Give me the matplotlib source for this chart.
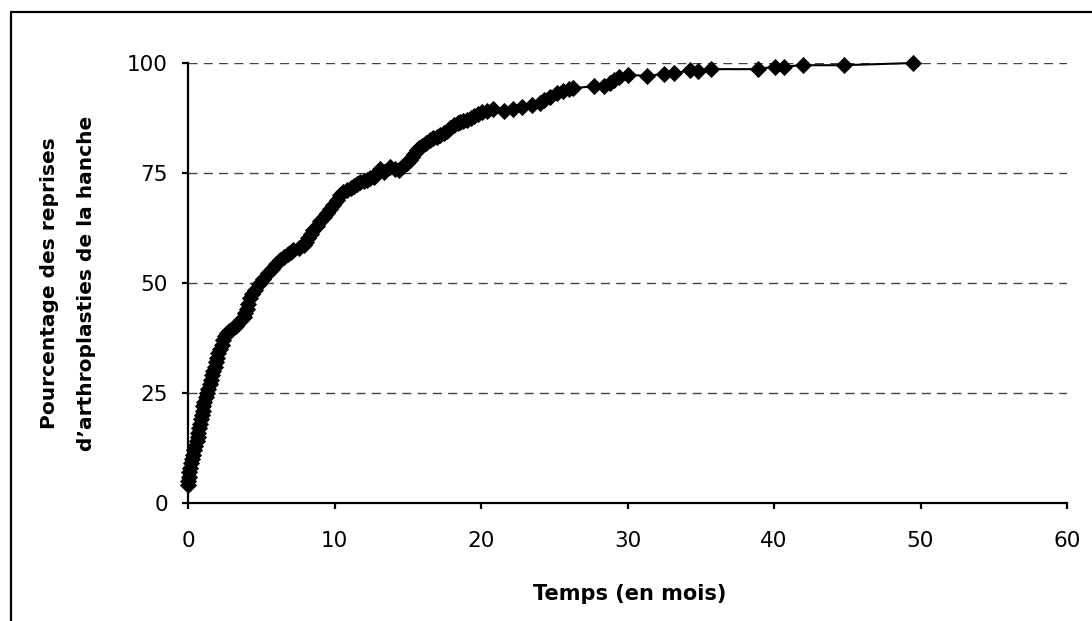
import matplotlib
matplotlib.use("Agg")
import matplotlib.pyplot as plt
from matplotlib.patches import Rectangle

# Time (months) and cumulative percentage of hip arthroplasty revisions
months = [
    0.0, 0.02, 0.04, 0.08, 0.12, 0.18, 0.25, 0.32, 0.40, 0.50, 0.60, 0.65, 0.70, 0.76,
    0.82, 0.88, 0.95, 1.00, 1.05, 1.12, 1.20, 1.30, 1.39, 1.47, 1.55, 1.64, 1.73, 1.82,
    1.90, 1.98, 2.07, 2.18, 2.30, 2.42, 2.53, 2.65, 2.80, 2.95, 3.10, 3.25, 3.44, 3.60,
    3.80, 3.90, 4.00, 4.10, 4.24, 4.40, 4.60, 4.85, 5.15, 5.45, 5.70, 6.00, 6.30, 6.55,
    6.80, 7.00, 7.20, 7.55, 7.90, 8.05, 8.20, 8.40, 8.56, 8.80, 9.00, 9.25, 9.48, 9.70,
    9.90, 10.15, 10.40, 10.60, 10.85, 11.10, 11.30, 11.55, 11.76, 12.00, 12.20, 12.45,
    12.67, 12.90, 13.10, 13.40, 13.80, 14.10, 14.40, 14.70, 14.95, 15.15, 15.30, 15.45,
    15.60, 15.80, 16.00, 16.25, 16.50, 16.75, 17.00, 17.20, 17.45, 17.70, 17.90, 18.15,
    18.40, 18.60, 18.80, 19.05, 19.30, 19.55, 19.80, 20.10, 20.40, 20.80, 21.60, 22.20,
    22.80, 23.50, 24.00, 24.30, 24.70, 25.20, 25.60, 26.00, 26.30, 27.70, 28.40, 28.80,
    29.10, 29.40, 30.00, 31.35, 32.50, 33.20, 34.30, 34.80, 35.70, 38.90, 40.10, 40.70,
    42.00, 44.75, 49.50,
]
percent = [
    4.0, 5.0, 6.0, 7.0, 8.0, 9.0, 10.0, 11.0, 12.0, 13.0, 14.0, 15.0, 16.0, 17.0,
    18.0, 19.0, 20.0, 21.0, 22.0, 23.0, 24.0, 25.0, 26.0, 27.0, 28.0, 29.0, 30.0, 31.0,
    32.0, 33.0, 34.0, 35.0, 36.0, 37.0, 38.0, 38.6, 39.0, 39.4, 39.8, 40.3, 41.0, 41.6,
    42.3, 43.2, 44.2, 45.3, 46.5, 47.6, 48.5, 49.8, 51.0, 52.2, 53.2, 54.3, 55.2, 55.9,
    56.5, 57.0, 57.5, 58.0, 58.6, 59.4, 60.2, 61.2, 62.0, 63.0, 64.0, 65.0, 65.8, 66.8,
    67.8, 68.9, 70.0, 70.6, 71.2, 71.6, 72.0, 72.5, 73.0, 73.2, 73.5, 73.8,
    74.2, 75.1, 76.0, 75.3, 76.4, 76.0, 75.7, 76.5, 77.2, 77.9, 78.6, 79.4,
    80.2, 80.7, 81.2, 81.9, 82.5, 82.9, 83.2, 83.6, 84.0, 84.6, 85.2, 85.8,
    86.3, 86.5, 86.8, 87.1, 87.4, 87.9, 88.3, 88.8, 89.0, 89.5, 89.0, 89.6,
    90.1, 90.5, 90.8, 91.5, 92.2, 93.1, 93.6, 94.0, 94.3, 94.7, 94.8, 95.5,
    96.2, 96.8, 97.3, 97.1, 97.5, 97.7, 98.3, 98.2, 98.6, 98.6, 99.2, 99.2,
    99.5, 99.5, 100.0,
]

x_ticks = [0, 10, 20, 30, 40, 50, 60]
y_ticks = [0, 25, 50, 75, 100]
x_title = "Temps (en mois)"
y_title = "Pourcentage des reprises\nd\u2019arthroplasties de la hanche"

W, H = 1092, 621
fig = plt.figure(figsize=(W / 100, H / 100), dpi=100)
fig.patch.set_facecolor("white")

# outer border (top and left visible, extends past right/bottom edges)
fig.patches.append(Rectangle((10.5 / W, -0.05), 1.2, 1 - 11.5 / H + 0.05,
                             transform=fig.transFigure, fill=False,
                             edgecolor="black", linewidth=1.6, clip_on=False))

ax = fig.add_axes([188 / W, 1 - 503 / H, (1067 - 188) / W, (503 - 63) / H])
ax.set_xlim(0, 60)
ax.set_ylim(0, 100)

for yv in y_ticks[1:]:
    ax.axhline(yv, color="#444444", linewidth=1.0, linestyle=(0, (6.5, 4.5)), zorder=1)

ax.plot(months, percent, color="black", linewidth=1.5, marker="D",
        markersize=8.4, markerfacecolor="black", markeredgecolor="black",
        markeredgewidth=0.6, zorder=3, clip_on=False)

for side in ("top", "right"):
    ax.spines[side].set_visible(False)
for side in ("left", "bottom"):
    ax.spines[side].set_linewidth(1.6)
    ax.spines[side].set_zorder(4)

ax.set_xticks(x_ticks)
ax.set_yticks(y_ticks)
ax.tick_params(axis="both", direction="out", length=4.5, width=1.6,
               labelsize=15.5, colors="black")
ax.tick_params(axis="x", pad=15.5)
ax.tick_params(axis="y", pad=10)
for lab in ax.get_xticklabels() + ax.get_yticklabels():
    lab.set_fontfamily("DejaVu Sans")

fig.text(630 / W, 1 - 594 / H, x_title, ha="center", va="center",
         fontsize=15, fontweight="bold", family="DejaVu Sans")
fig.text(68 / W, 1 - 283 / H, y_title, ha="center", va="center", rotation=90,
         fontsize=14.5, fontweight="bold", family="DejaVu Sans", linespacing=2.25)

fig.savefig("out.png", dpi=100, facecolor="white")
